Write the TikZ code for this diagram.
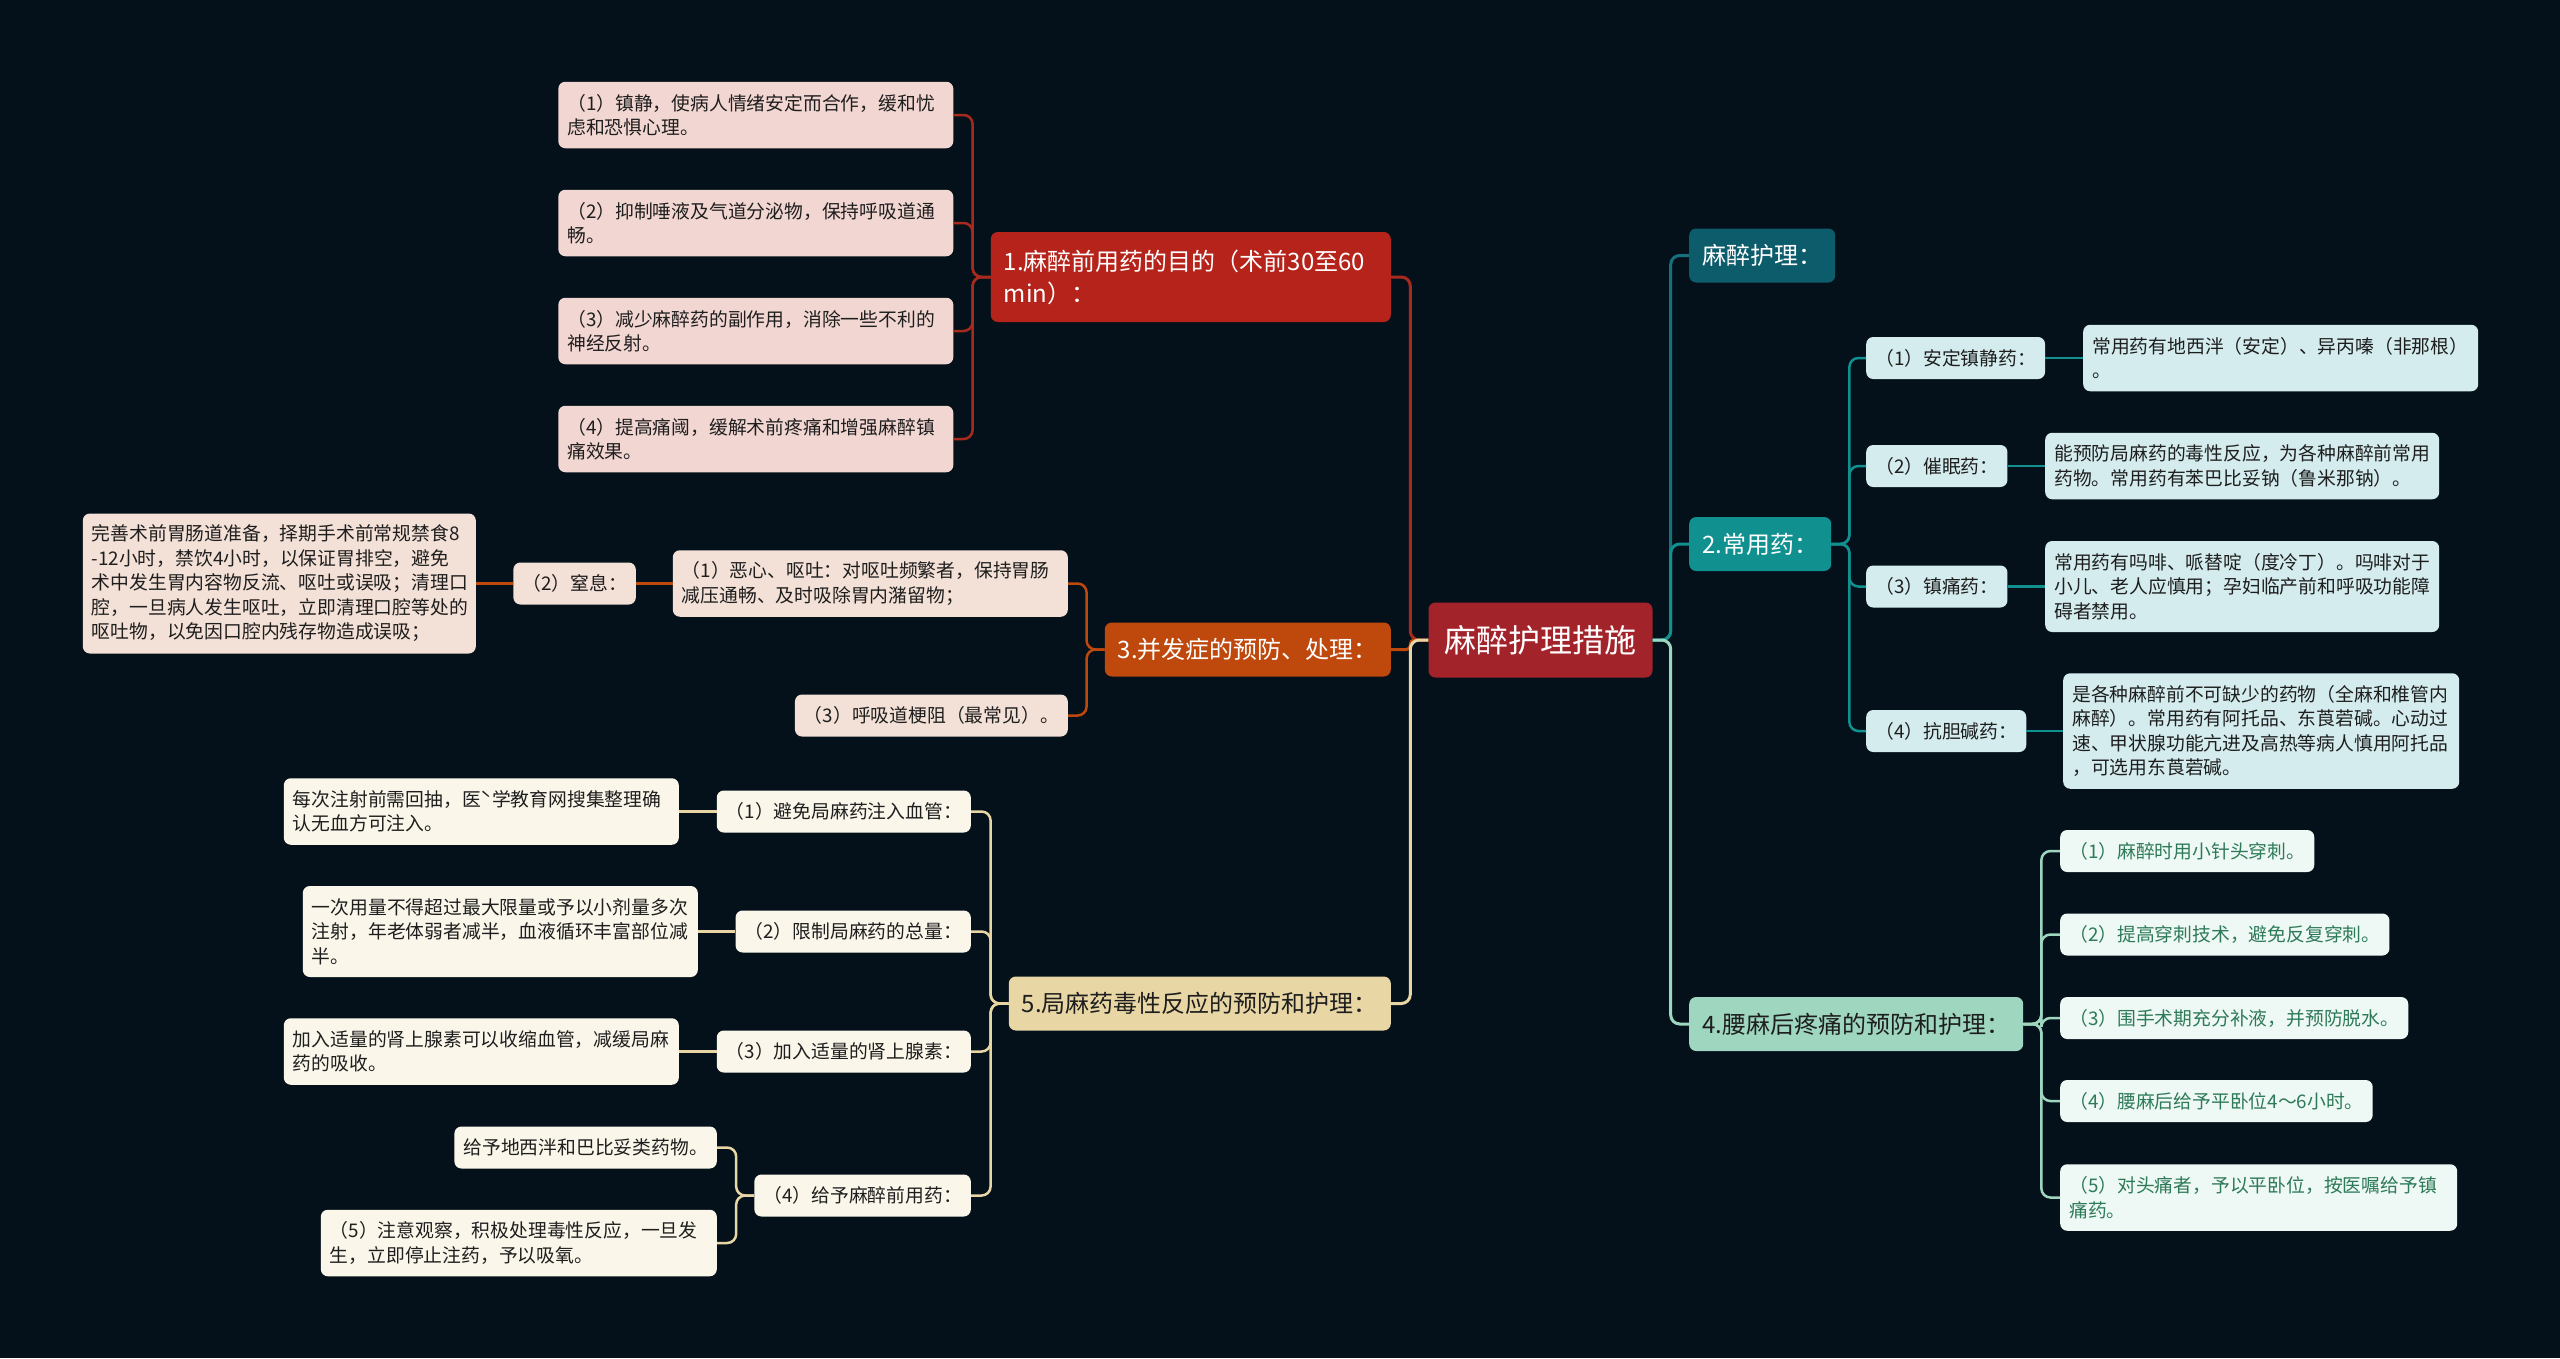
\documentclass[tikz,border=0pt]{standalone}
\usepackage{fontspec}
\setmainfont{Noto Sans CJK SC}

\definecolor{bgnavy}{HTML}{04111A}
\definecolor{rootred}{HTML}{A3232B}
\definecolor{redB}{HTML}{B5231A}
\definecolor{redL}{HTML}{A82A1F}
\definecolor{orangeB}{HTML}{BF480D}
\definecolor{beigeB}{HTML}{E8D6A4}
\definecolor{tealD}{HTML}{0D5C6B}
\definecolor{tealDL}{HTML}{16717D}
\definecolor{tealB}{HTML}{10908F}
\definecolor{mintB}{HTML}{9ED6C0}
\definecolor{pinkA}{HTML}{F2D6D2}
\definecolor{pinkC}{HTML}{F3E0D6}
\definecolor{creamD}{HTML}{FAF6EA}
\definecolor{cyanG}{HTML}{D4ECEE}
\definecolor{mintK}{HTML}{EEF8F4}
\definecolor{leaftext}{HTML}{1E1E1E}
\definecolor{greentext}{HTML}{2D7A58}

\newcommand{\leaffont}{\fontsize{18.8}{24.5}\selectfont}
\newcommand{\brfont}{\fontsize{24}{32}\selectfont}
\newcommand{\rootfont}{\fontsize{32}{38}\selectfont}

\begin{document}
\begin{tikzpicture}[x=1pt,y=-1pt,
  rootbox/.style={fill=rootred,text=white,font=\rootfont,rounded corners=7pt,inner xsep=16pt,minimum height=75pt},
  mainbox/.style={rounded corners=7pt,font=\brfont,inner xsep=13pt,inner ysep=0pt,minimum height=54pt,align=left},
  leaf/.style={rounded corners=7pt,font=\leaffont,text=leaftext,inner xsep=9pt,inner ysep=0pt,minimum height=42pt,align=left},
  nrows/.style={minimum height={24.5*#1+17.5}},
  link/.style={line width=2.5pt,rounded corners=9pt},
  elbowL/.style={to path={-- ++(-18,0) |- (\tikztotarget)}},
  elbowR/.style={to path={-- ++(18,0) |- (\tikztotarget)}}]
\fill[bgnavy] (0,0) rectangle (2560,1358);
\useasboundingbox (0,0) rectangle (2560,1358);

\node[rootbox] (root) at (1540.5,640) {麻醉护理措施};

% left: 1
\node[mainbox,fill=redB,text=white,text width=374pt,minimum height=90pt,anchor=east] (b1) at (1391,277) {1.麻醉前用药的目的（术前30至60\\min）：};
\node[leaf,fill=pinkA,text width=377pt,nrows=2,anchor=east] (a1) at (953.5,115) {（1）镇静，使病人情绪安定而合作，缓和忧\\虑和恐惧心理。};
\node[leaf,fill=pinkA,text width=377pt,nrows=2,anchor=east] (a2) at (953.5,223) {（2）抑制唾液及气道分泌物，保持呼吸道通\\畅。};
\node[leaf,fill=pinkA,text width=377pt,nrows=2,anchor=east] (a3) at (953.5,331) {（3）减少麻醉药的副作用，消除一些不利的\\神经反射。};
\node[leaf,fill=pinkA,text width=377pt,nrows=2,anchor=east] (a4) at (953.5,439) {（4）提高痛阈，缓解术前疼痛和增强麻醉镇\\痛效果。};

% left: 3
\node[mainbox,fill=orangeB,text=white,anchor=east] (b3) at (1391,649.5) {3.并发症的预防、处理：};
\node[leaf,fill=pinkC,text width=377pt,nrows=2,anchor=east] (c1) at (1068,583.5) {（1）恶心、呕吐：对呕吐频繁者，保持胃肠\\减压通畅、及时吸除胃内潴留物；};
\node[leaf,fill=pinkC,anchor=east] (c2) at (636,583.5) {（2）窒息：};
\node[leaf,fill=pinkC,text width=375pt,nrows=5,anchor=east] (c2x) at (476,583.5) {完善术前胃肠道准备，择期手术前常规禁食8\\-12小时，禁饮4小时，以保证胃排空，避免\\术中发生胃内容物反流、呕吐或误吸；清理口\\腔，一旦病人发生呕吐，立即清理口腔等处的\\呕吐物，以免因口腔内残存物造成误吸；};
\node[leaf,fill=pinkC,anchor=east] (c3) at (1068,715.5) {（3）呼吸道梗阻（最常见）。};

% left: 5
\node[mainbox,fill=beigeB,text=leaftext,anchor=east] (b5) at (1391,1003.5) {5.局麻药毒性反应的预防和护理：};
\node[leaf,fill=creamD,anchor=east] (d1) at (971,811.5) {（1）避免局麻药注入血管：};
\node[leaf,fill=creamD,text width=377pt,nrows=2,anchor=east] (e1) at (679,811.5) {每次注射前需回抽，医ˋ学教育网搜集整理确\\认无血方可注入。};
\node[leaf,fill=creamD,anchor=east] (d2) at (971,931.5) {（2）限制局麻药的总量：};
\node[leaf,fill=creamD,text width=377pt,nrows=3,anchor=east] (e2) at (698,931.5) {一次用量不得超过最大限量或予以小剂量多次\\注射，年老体弱者减半，血液循环丰富部位减\\半。};
\node[leaf,fill=creamD,anchor=east] (d3) at (971,1051.5) {（3）加入适量的肾上腺素：};
\node[leaf,fill=creamD,text width=377pt,nrows=2,anchor=east] (e3) at (679,1051.5) {加入适量的肾上腺素可以收缩血管，减缓局麻\\药的吸收。};
\node[leaf,fill=creamD,anchor=east] (d4) at (971,1195.5) {（4）给予麻醉前用药：};
\node[leaf,fill=creamD,anchor=east] (f1) at (717,1147.5) {给予地西泮和巴比妥类药物。};
\node[leaf,fill=creamD,text width=378pt,nrows=2,anchor=east] (f2) at (717,1243) {（5）注意观察，积极处理毒性反应，一旦发\\生，立即停止注药，予以吸氧。};

% right: 麻醉护理 / 2
\node[mainbox,fill=tealD,text=white,anchor=west] (r1) at (1689,255.5) {麻醉护理：};
\node[mainbox,fill=tealB,text=white,anchor=west] (r2) at (1689,544) {2.常用药：};
\node[leaf,fill=cyanG,anchor=west] (g1) at (1866,358) {（1）安定镇静药：};
\node[leaf,fill=cyanG,text width=377pt,nrows=2,anchor=west] (h1) at (2083,358) {常用药有地西泮（安定）、异丙嗪（非那根）\\。};
\node[leaf,fill=cyanG,anchor=west] (g2) at (1866,466) {（2）催眠药：};
\node[leaf,fill=cyanG,text width=376pt,nrows=2,anchor=west] (h2) at (2045,466) {能预防局麻药的毒性反应，为各种麻醉前常用\\药物。常用药有苯巴比妥钠（鲁米那钠）。};
\node[leaf,fill=cyanG,anchor=west] (g3) at (1866,586.5) {（3）镇痛药：};
\node[leaf,fill=cyanG,text width=376pt,nrows=3,anchor=west] (h3) at (2045,586.5) {常用药有吗啡、哌替啶（度冷丁）。吗啡对于\\小儿、老人应慎用；孕妇临产前和呼吸功能障\\碍者禁用。};
\node[leaf,fill=cyanG,anchor=west] (g4) at (1866,731) {（4）抗胆碱药：};
\node[leaf,fill=cyanG,text width=378pt,nrows=4,anchor=west] (h4) at (2063,731) {是各种麻醉前不可缺少的药物（全麻和椎管内\\麻醉）。常用药有阿托品、东莨菪碱。心动过\\速、甲状腺功能亢进及高热等病人慎用阿托品\\，可选用东莨菪碱。};

% right: 4
\node[mainbox,fill=mintB,text=leaftext,anchor=west] (r4) at (1689,1024) {4.腰麻后疼痛的预防和护理：};
\node[leaf,fill=mintK,text=greentext,anchor=west] (k1) at (2060,851) {（1）麻醉时用小针头穿刺。};
\node[leaf,fill=mintK,text=greentext,anchor=west] (k2) at (2060,934.5) {（2）提高穿刺技术，避免反复穿刺。};
\node[leaf,fill=mintK,text=greentext,anchor=west] (k3) at (2060,1018) {（3）围手术期充分补液，并预防脱水。};
\node[leaf,fill=mintK,text=greentext,anchor=west] (k4) at (2060,1101) {（4）腰麻后给予平卧位4～6小时。};
\node[leaf,fill=mintK,text=greentext,text width=379pt,nrows=2,anchor=west] (k5) at (2060,1197.5) {（5）对头痛者，予以平卧位，按医嘱给予镇\\痛药。};

% connectors
\draw[link,line width=3pt,redL] (root.west) to[elbowL] (b1.east);
\draw[link,line width=3pt,orangeB,rounded corners=4pt] (root.west) to[elbowL] (b3.east);
\draw[link,line width=3pt,beigeB] (root.west) to[elbowL] (b5.east);
\draw[link,line width=3pt,tealDL] (root.east) to[elbowR] (r1.west);
\draw[link,line width=3pt,tealB] (root.east) to[elbowR] (r2.west);
\draw[link,line width=3pt,mintB] (root.east) to[elbowR] (r4.west);
\foreach \n in {a1,a2,a3,a4} \draw[link,redL] (b1.west) to[elbowL] (\n.east);
\foreach \n in {c1,c3} \draw[link,orangeB] (b3.west) to[elbowL] (\n.east);
\draw[link,orangeB] (c1.west) -- (c2.east);
\draw[link,orangeB] (c2.west) -- (c2x.east);
\foreach \n in {d1,d2,d3,d4} \draw[link,beigeB] (b5.west) to[elbowL] (\n.east);
\draw[link,beigeB] (d1.west) -- (e1.east);
\draw[link,beigeB] (d2.west) -- (e2.east);
\draw[link,beigeB] (d3.west) -- (e3.east);
\foreach \n in {f1,f2} \draw[link,beigeB] (d4.west) to[elbowL] (\n.east);
\foreach \n in {g1,g2,g3,g4} \draw[link,tealB] (r2.east) to[elbowR] (\n.west);
\draw[link,tealB] (g1.east) -- (h1.west);
\draw[link,tealB] (g2.east) -- (h2.west);
\draw[link,tealB] (g3.east) -- (h3.west);
\draw[link,tealB] (g4.east) -- (h4.west);
\foreach \n in {k1,k2,k3,k4,k5} \draw[link,mintB] (r4.east) to[elbowR] (\n.west);
\end{tikzpicture}
\end{document}
